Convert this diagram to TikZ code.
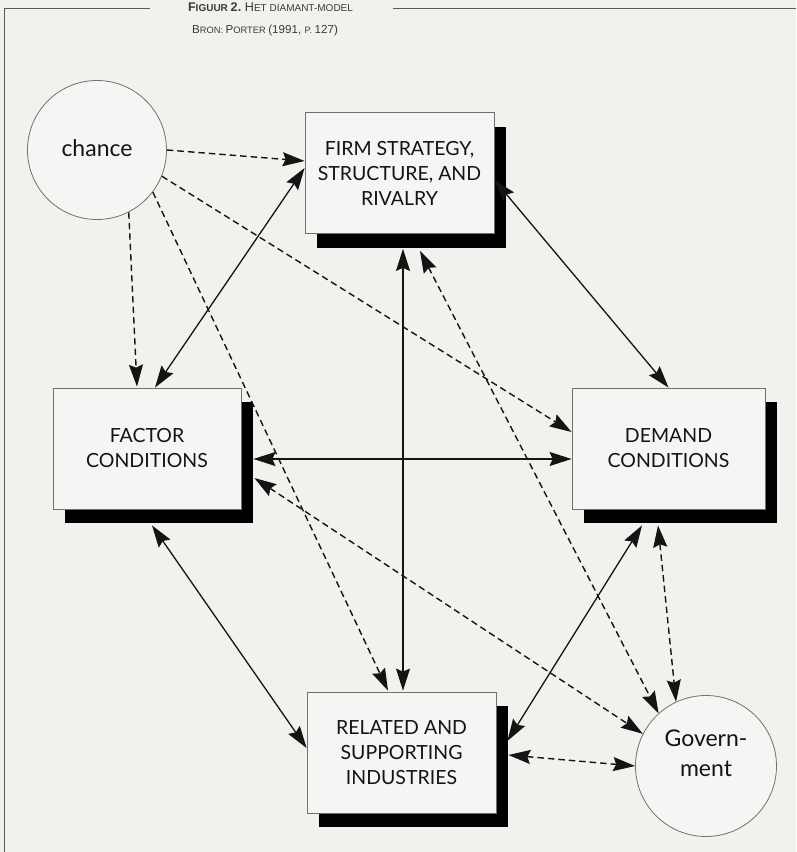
\documentclass[tikz,border=0pt]{standalone}
\usepackage{fontspec}
\newfontfamily\boxfont{Lato}
\newfontfamily\titlefont{Liberation Sans}
\usetikzlibrary{arrows.meta,calc,shadows}
\definecolor{paper}{HTML}{F1F1EE}
\definecolor{boxpaper}{HTML}{F5F5F3}
\definecolor{ink}{HTML}{141414}
\definecolor{rim}{HTML}{707070}
\definecolor{frameline}{HTML}{5A5A5A}
\definecolor{titleink}{HTML}{3A3A3A}
\newcommand{\bigsc}{\fontsize{12.6}{14}\selectfont}
\newcommand{\smallsc}{\fontsize{10}{14}\selectfont}
\newcommand{\bigsub}{\fontsize{11.6}{14}\selectfont}
\newcommand{\smallsub}{\fontsize{9.3}{14}\selectfont}
\begin{document}
\begin{tikzpicture}[x=1pt,y=-1pt,
  factorbox/.style={draw=rim, line width=0.8pt, fill=boxpaper, minimum height=121pt,
    align=center, inner sep=0pt, font=\boxfont\fontsize{19.5}{25}\selectfont, text=ink,
    general shadow={fill=black, shadow xshift=12pt, shadow yshift=-14pt}},
  roundnode/.style={circle, draw=rim, line width=0.8pt, fill=boxpaper, minimum size=139pt,
    inner sep=0pt},
  roundtext/.style={align=center, inner sep=0pt, font=\boxfont\fontsize{23}{30}\selectfont, text=ink},
  titletext/.style={inner sep=0pt, text=titleink, font=\titlefont},
  frame/.style={draw=frameline, line width=0.9pt},
  link/.style={draw=ink, line width=1.3pt,
    {Stealth[length=22pt,width=14pt,inset=3pt]}-{Stealth[length=22pt,width=14pt,inset=3pt]}},
  dlink/.style={draw=ink, line width=1.4pt, dash pattern=on 6.5pt off 4pt,
    {Stealth[length=22pt,width=14pt,inset=3pt]}-{Stealth[length=22pt,width=14pt,inset=3pt]}},
  slink/.style={draw=ink, line width=1.4pt, dash pattern=on 6.5pt off 4pt,
    -{Stealth[length=22pt,width=14pt,inset=3pt]}}
]
\useasboundingbox (0,0) rectangle (796,852);
\fill[paper] (0,0) rectangle (796,852);

% page frame
\draw[frame] (4,852) -- (4,8) -- (150,8);
\draw[frame] (393,8) -- (796,8);

% titles
\node[titletext] (title) at (270.5,7) {{\bfseries\bigsc F\smallsc IGUUR \bigsc 2.} \bigsc H\smallsc ET DIAMANT-MODEL};
\node[titletext] (subtitle) at (265,30) {\bigsub B\smallsub RON: \bigsub P\smallsub ORTER \bigsub (1991, \smallsub P. \bigsub 127)};

% nodes
\node[factorbox, minimum width=189pt] (firm) at (399.5,173) {FIRM STRATEGY,\\STRUCTURE, AND\\RIVALRY};
\node[factorbox, minimum width=188pt] (factor) at (147,448.5) {FACTOR\\CONDITIONS};
\node[factorbox, minimum width=193pt] (demand) at (668.5,448.5) {DEMAND\\CONDITIONS};
\node[factorbox, minimum width=189pt] (related) at (401.5,752.5) {RELATED AND\\SUPPORTING\\INDUSTRIES};
\node[roundnode] (chance) at (97,150) {};
\node[roundtext] (chancetext) at (97,148) {chance};
\node[roundnode, minimum size=141pt] (gov) at (706,766) {};
\node[roundtext] (govtext) at (706,753) {Govern-\\ment};

% solid double connectors
\draw[link] ($(factor.north)+(8,0)$) -- ($(firm.west)+(0,-5)$);
\draw[link] ($(firm.east)+(0,7)$) -- (demand.north);
\draw[link] ($(firm.south)+(3.5,15)$) -- ($(related.north)+(1.5,-1)$);
\draw[link] ($(factor.east)+(12,10.5)$) -- ($(demand.west)+(0,10.5)$);
\draw[link] ($(factor.south)+(5,16)$) -- ($(related.west)+(0,-4.5)$);
\draw[link] ($(demand.south)+(-26.5,16)$) -- ($(related.east)+(11,-11.5)$);

% dashed double connectors to government
\draw[dlink] ($(demand.south)+(-10.5,16)$) -- (gov.115);
\draw[dlink] ($(related.east)+(12,2.5)$) -- (gov.180);
\draw[dlink] ($(factor.east)+(13,29.5)$) -- (gov.153);
\draw[dlink] ($(firm.south)+(20.5,17)$) -- (gov.132);

% dashed connectors from chance
\draw[slink] (chance.east) -- ($(firm.west)+(0,-12)$);
\draw[slink] (chance.-63) -- ($(factor.north)+(-10,-1)$);
\draw[slink] (chance.-22) -- ($(demand.west)+(0,-16.5)$);
\draw[slink] (chance.-37) -- ($(related.north)+(-13.5,-1)$);
\end{tikzpicture}
\end{document}
